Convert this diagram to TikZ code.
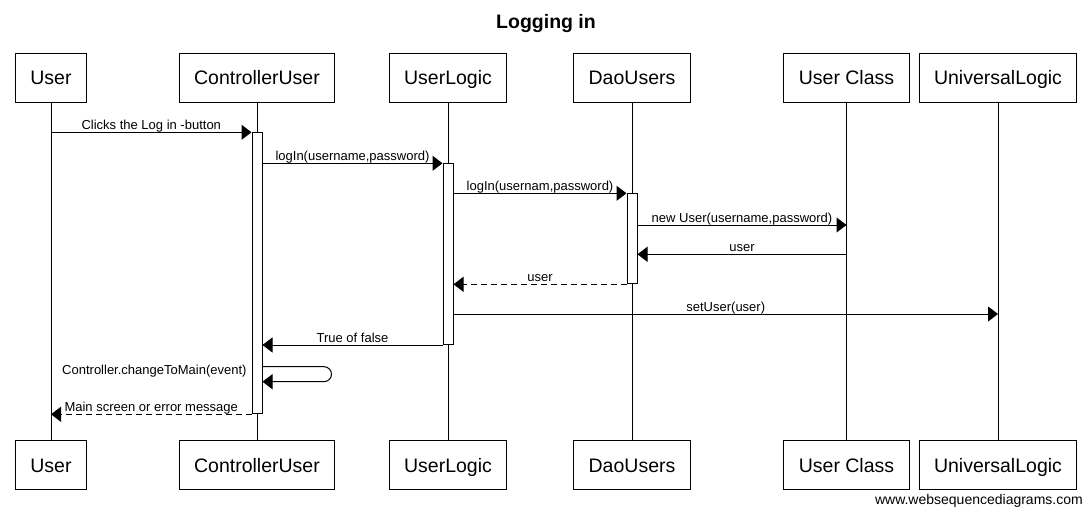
\documentclass[tikz,border=0pt]{standalone}
\usepackage{fontspec}
\setmainfont{Liberation Sans}
\usetikzlibrary{arrows.meta}

\tikzset{
  actor/.style={draw, line width=1pt, minimum height=49pt, inner xsep=15pt,
    text height=14pt, text depth=0pt, font=\fontsize{19.5}{23}\selectfont},
  act/.style={draw, line width=1pt, fill=white, minimum width=10pt, inner sep=0pt, anchor=north},
  msg/.style={line width=1pt, -{Triangle[length=10pt,width=15pt]}},
  reply/.style={msg, dash pattern=on 6pt off 4pt},
  lbl/.style={midway, anchor=base, yshift=3pt, inner sep=0pt, font=\fontsize{13}{15}\selectfont}
}

\begin{document}
\begin{tikzpicture}[x=1pt, y=-1pt]
    \useasboundingbox (0,0) rectangle (1092,524);

    \node [anchor=base, font=\fontsize{19.5}{23}\selectfont\bfseries] (title) at (546, 28.3) {Logging in};

    % heads
    \node [actor] (u) at (51, 77.8) {User};
    \node [actor] (cu) at (257, 77.8) {ControllerUser};
    \node [actor] (l) at (448, 77.8) {UserLogic};
    \node [actor] (d) at (632, 77.8) {DaoUsers};
    \node [actor] (c) at (846.5, 77.8) {User Class};
    \node [actor] (g) at (998, 77.8) {UniversalLogic};

    % feet
    \node [actor] (ub) at (51, 465) {User};
    \node [actor] (cub) at (257, 465) {ControllerUser};
    \node [actor] (lb) at (448, 465) {UserLogic};
    \node [actor] (db) at (632, 465) {DaoUsers};
    \node [actor] (cb) at (846.5, 465) {User Class};
    \node [actor] (gb) at (998, 465) {UniversalLogic};

    \draw [line width=1pt] (u) -- (ub);
    \draw [line width=1pt] (cu) -- (cub);
    \draw [line width=1pt] (l) -- (lb);
    \draw [line width=1pt] (d) -- (db);
    \draw [line width=1pt] (c) -- (cb);
    \draw [line width=1pt] (g) -- (gb);

    % activations
    \node [act, minimum height=281pt] (ca) at (257, 132.3) {};
    \node [act, minimum height=180.7pt] (la) at (448, 163.3) {};
    \node [act, minimum height=90pt] (da) at (632, 193.3) {};

    \coordinate (m4) at (0, 225);
    \coordinate (m5) at (0, 254.3);
    \coordinate (m7) at (0, 314);
    \coordinate (m9) at (0, 366.7);

    \draw [msg] (ca.north -| u) -- (ca.north west) node [lbl] {Clicks the Log in -button};
    \draw [msg] (la.north -| ca.east) -- (la.north west) node [lbl] {logIn(username,password)};
    \draw [msg] (da.north -| la.east) -- (da.north west) node [lbl] {logIn(usernam,password)};
    \draw [msg] (da.east |- m4) -- (c |- m4) node [lbl] {new User(username,password)};
    \draw [msg] (c |- m5) -- (da.east |- m5) node [lbl] {user};
    \draw [reply] (da.south west) -- (da.south west -| la.east) node [lbl] {user};
    \draw [msg] (la.east |- m7) -- (g |- m7) node [lbl] {setUser(user)};
    \draw [msg] (la.south west) -- (la.south west -| ca.east) node [lbl] {True of false};

    \draw [msg, rounded corners=7.5pt] (ca.east |- m9) -- ++(69, 0) -- ++(0, 15) -- ++(-69, 0);
    \node [anchor=base east, inner sep=0pt, font=\fontsize{13}{15}\selectfont] (self) at (246.7, 374) {Controller.changeToMain(event)};

    \draw [reply] (ca.south west) -- (ca.south west -| u) node [lbl] {Main screen or error message};

    \node [anchor=base east, inner sep=0pt, font=\fontsize{14}{16}\selectfont] (site) at (1083, 504) {www.websequencediagrams.com};
\end{tikzpicture}
\end{document}
